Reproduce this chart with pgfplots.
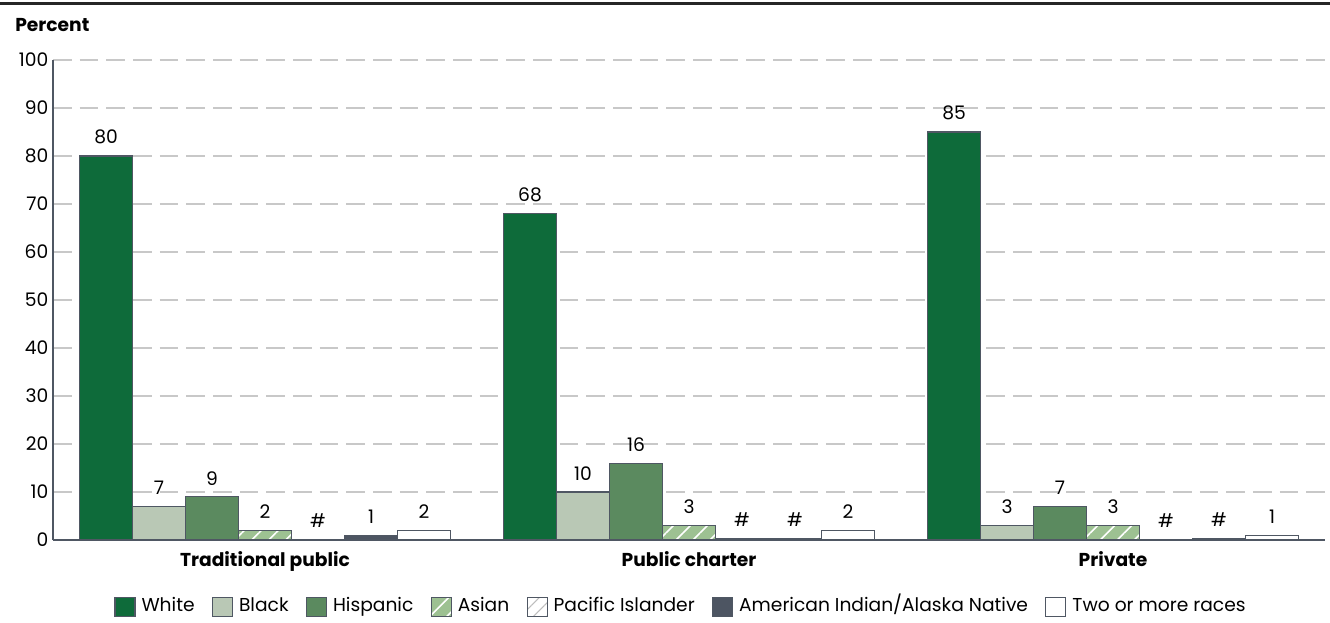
\documentclass[border=0pt]{standalone}
\usepackage{fontspec}
\setmainfont{Poppins}
\usepackage{pgfplots}
\pgfplotsset{compat=1.18}
\usetikzlibrary{patterns.meta}

\definecolor{cWhite}{HTML}{0E6B3A}
\definecolor{cBlack}{HTML}{B9C8B5}
\definecolor{cHisp}{HTML}{5B8A5F}
\definecolor{cAsian}{HTML}{9DC192}
\definecolor{cAian}{HTML}{4D5562}
\definecolor{cEdge}{HTML}{4F5763}
\definecolor{cGrid}{HTML}{C8C8C8}
\definecolor{cStripe}{HTML}{BDBDBD}

\newcommand{\chartfont}{\fontsize{14}{16}\selectfont}

\begin{document}
\begin{tikzpicture}[x=0.75pt,y=-0.75pt]
\path[use as bounding box] (0,0) rectangle (1330,622);
\draw[line width=2pt, black!85] (0,3.5) -- (1330,3.5);
\node[anchor=west, font=\chartfont\bfseries, inner sep=0pt] at (15,25) {Percent};
\begin{axis}[
  at={(39.75pt,-405pt)}, anchor=south west,
  scale only axis, width=954pt, height=360pt,
  xmin=-0.5, xmax=2.5, ymin=0, ymax=100,
  axis lines=left, axis line style={-, cEdge, line width=1.1pt},
  ytick={0,10,...,100}, xtick={0,1,2},
  xticklabels={Traditional public, Public charter, Private},
  major tick length=0pt,
  ymajorgrids,
  major grid style={cGrid, line width=1.4pt, dash pattern=on 14pt off 6pt},
  tick label style={font=\chartfont},
  xticklabel style={font=\chartfont\bfseries, yshift=-5pt},
  /pgf/number format/assume math mode=true,
  ybar=0pt, bar width=0.125,
  every axis plot/.append style={draw=cEdge, line width=0.8pt},
  point meta=explicit symbolic,
  nodes near coords,
  nodes near coords style={font=\chartfont, anchor=south, yshift=5pt, text=black},
  legend columns=7,
  legend style={at={(0.494,-0.14)}, anchor=center, draw=none, fill=none,
    font=\chartfont, inner sep=0pt,
    nodes={text height=1.55ex, text depth=0.3ex},
    /tikz/every odd column/.append style={column sep=2.5pt},
    /tikz/every even column/.append style={column sep=11pt}},
  legend image code/.code={\draw[#1] (0pt,-7pt) rectangle (15pt,7pt);},
]
% White
\addplot[fill=cWhite, bar shift=-0.375] coordinates {(0,80) [80] (1,68) [68] (2,85) [85]};
% Black
\addplot[fill=cBlack, bar shift=-0.25] coordinates {(0,7) [7] (1,10) [10] (2,3) [3]};
% Hispanic
\addplot[fill=cHisp, bar shift=-0.125] coordinates {(0,9) [9] (1,16) [16] (2,7) [7]};
% Asian
\addplot[fill=cAsian, bar shift=0,
  postaction={pattern={Lines[angle=45,distance=9pt,line width=1.2pt]}, pattern color=white}]
  coordinates {(0,2) [2] (1,3) [3] (2,3) [3]};
% Pacific Islander
\addplot[fill=white, bar shift=0.125,
  postaction={pattern={Lines[angle=45,distance=7pt,line width=0.8pt]}, pattern color=cStripe}]
  coordinates {(0,0.2) [\#] (1,0.35) [\#] (2,0.15) [\#]};
% American Indian/Alaska Native
\addplot[fill=cAian, bar shift=0.25] coordinates {(0,1) [1] (1,0.3) [\#] (2,0.3) [\#]};
% Two or more races
\addplot[fill=white, bar shift=0.375] coordinates {(0,2) [2] (1,2) [2] (2,1) [1]};
\legend{White, Black, Hispanic, Asian, Pacific Islander, American Indian/Alaska Native, Two or more races}
\end{axis}
\end{tikzpicture}
\end{document}
